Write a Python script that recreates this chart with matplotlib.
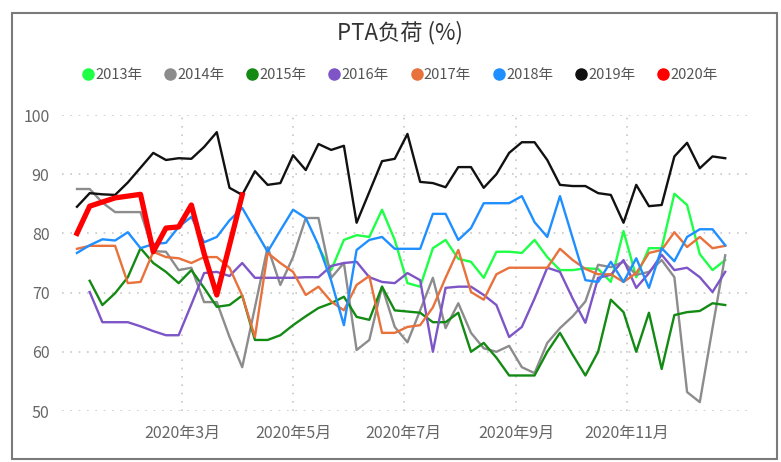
import matplotlib.pyplot as plt
import numpy as np
import pandas as pd
from matplotlib.lines import Line2D
from matplotlib.patches import Rectangle

plt.rcParams['font.family'] = ['Noto Sans CJK SC', 'DejaVu Sans']

nan = np.nan

# weekly readings, 52 weeks of the year (x axis shown as 2020 dates)
weeks = pd.date_range('2020-01-03', periods=52, freq='7D')

y2013 = [nan] * 19 + [
    77.7, 73.8, 78.9, 79.7, 79.4, 84.0, 78.9, 71.6, 71.0, 77.5,
    78.9, 75.7, 75.2, 72.5, 76.9, 76.9, 76.7, 78.9, 76.0, 73.8,
    73.8, 74.1, 74.0, 71.8, 80.4, 72.6, 77.5, 77.5, 86.7, 84.8,
    76.5, 73.8, 75.5]
y2014 = [
    87.5, 87.5, 85.2, 83.6, 83.6, 83.6, 77.0, 76.9, 73.8, 74.2,
    68.4, 68.4, 62.5, 57.4, 67.5, 77.7, 71.3, 76.0, 82.6, 82.6,
    72.5, 75.0, 60.3, 62.0, 71.0, 64.2, 61.6, 67.0, 72.5, 64.0,
    68.2, 63.2, 60.6, 60.0, 61.0, 57.4, 56.4, 61.5, 64.0, 66.0,
    68.5, 74.7, 74.3, 75.2, 73.0, 73.5, 75.5, 72.6, 53.2, 51.5,
    64.0, 76.3]
y2015 = [
    nan, 72.0, 67.9, 69.9, 72.6, 77.5, 75.0, 73.5, 71.6, 73.8,
    70.8, 67.6, 67.9, 69.5, 62.0, 62.0, 62.8, 64.5, 66.0, 67.4,
    68.2, 69.3, 65.9, 65.4, 71.0, 67.0, 66.8, 66.6, 65.0, 65.0,
    66.6, 60.0, 61.5, 59.0, 56.0, 56.0, 56.0, 60.0, 63.2, 59.5,
    56.0, 60.0, 68.8, 66.7, 60.0, 66.6, 57.1, 66.2, 66.7, 66.9,
    68.2, 67.9]
y2016 = [
    nan, 70.1, 65.0, 65.0, 65.0, 64.3, 63.5, 62.8, 62.8, 68.0,
    73.3, 73.5, 72.8, 75.0, 72.5, 72.5, 72.5, 72.5, 72.6, 72.6,
    74.5, 75.0, 75.2, 72.6, 71.8, 71.6, 73.3, 72.1, 60.0, 70.8,
    71.0, 71.0, 69.6, 67.9, 62.5, 64.2, 69.0, 74.2, 73.5, 69.0,
    64.9, 72.5, 73.0, 75.5, 70.8, 73.3, 76.4, 73.8, 74.2, 72.6,
    70.1, 73.5]
y2017 = [
    77.4, 77.9, 77.9, 77.9, 71.6, 71.8, 76.9, 76.0, 75.8, 75.0,
    76.0, 76.0, 74.2, 69.5, 62.5, 76.7, 75.0, 73.5, 69.6, 71.0,
    68.5, 67.0, 71.3, 72.8, 63.2, 63.2, 64.2, 64.5, 67.5, 72.5,
    77.2, 70.1, 68.8, 73.1, 74.2, 74.2, 74.2, 74.2, 77.4, 75.5,
    74.0, 73.1, 73.1, 71.8, 73.3, 76.7, 77.2, 80.2, 77.7, 79.4,
    77.5, 77.9]
y2018 = [
    76.7, 78.0, 79.0, 78.8, 80.2, 77.5, 78.2, 78.4, 81.1, 82.8,
    78.5, 79.4, 82.2, 84.3, 80.6, 76.9, 80.5, 84.0, 82.6, 78.0,
    72.0, 64.5, 77.2, 78.9, 79.4, 77.4, 77.4, 77.4, 83.3, 83.3,
    78.9, 80.9, 85.1, 85.1, 85.1, 86.3, 81.9, 79.4, 86.3, 79.2,
    72.1, 71.8, 75.2, 71.8, 75.8, 70.8, 77.5, 75.3, 79.4, 80.7,
    80.7, 78.0]
y2019 = [
    84.5, 86.8, 86.6, 86.5, 88.6, 91.1, 93.6, 92.4, 92.7, 92.6,
    94.6, 97.1, 87.7, 86.5, 90.5, 88.2, 88.5, 93.2, 90.7, 95.1,
    94.1, 94.8, 81.8, 87.0, 92.2, 92.6, 96.8, 88.7, 88.5, 87.8,
    91.2, 91.2, 87.7, 90.0, 93.6, 95.4, 95.4, 92.4, 88.2, 88.0,
    88.0, 86.8, 86.5, 81.8, 88.2, 84.6, 84.8, 93.0, 95.3, 91.0,
    93.0, 92.7]
y2020 = [
    80.0, 84.6, 85.3, 86.0, 86.3, 86.6, 76.9, 80.9, 81.1, 84.8,
    76.6, 69.6, 78.0, 86.5] + [nan] * 38

labels = ["2013年", "2014年", "2015年", "2016年", "2017年", "2018年", "2019年", "2020年"]
colors = ["#1eff46", "#8c8c8c", "#138a13", "#7d55c7", "#e8713c", "#1f8fff", "#111111", "#ff0000"]
values = [y2013, y2014, y2015, y2016, y2017, y2018, y2019, y2020]

tick_dates = pd.to_datetime(['2020-03-01', '2020-05-01', '2020-07-01', '2020-09-01', '2020-11-01'])
tick_labels = ["2020年3月", "2020年5月", "2020年7月", "2020年9月", "2020年11月"]

fig = plt.figure(figsize=(7.81, 4.62), dpi=100)
ax = fig.add_axes([62 / 781, 51 / 462, 685 / 781, 296 / 462])
ax.set_facecolor('none')

for label, vals, color in zip(labels, values, colors):
    lw = 3.8 if label == "2020年" else 1.7
    ax.plot(weeks, np.array(vals, dtype=float), color=color, lw=lw, label=label)

ax.set_ylim(50, 100)
ax.set_yticks(range(50, 101, 10))
ax.set_xlim(pd.Timestamp('2019-12-25 18:00'), pd.Timestamp('2021-01-06'))
ax.set_xticks(tick_dates)
ax.set_xticklabels(tick_labels)
ax.grid(True, color='#c8c8c8', linestyle=(0, (1, 4)), lw=1.2)
ax.set_axisbelow(True)
for s in ax.spines.values():
    s.set_visible(False)
ax.tick_params(axis='both', length=0, colors='#666666', labelsize=11.5)
ax.tick_params(axis='y', pad=9)
ax.tick_params(axis='x', pad=10)

handles = [Line2D([], [], marker='o', linestyle='', color=c, markersize=8) for c in colors]
fig.legend(handles, labels, loc='center', bbox_to_anchor=(400 / 781, 1 - 75 / 462),
           ncol=8, frameon=False, fontsize=10.5, handletextpad=0.1,
           columnspacing=1.5, handlelength=0.8, labelcolor='#555555')

fig.text(400 / 781, 1 - 33 / 462, "PTA负荷 (%)", ha='center', va='center',
         fontsize=16, color='#333333')

fig.add_artist(Rectangle((12 / 781, 3 / 462), 765 / 781, 446 / 462,
                         transform=fig.transFigure, fill=False,
                         edgecolor='#7a7a7a', lw=1.5))

fig.savefig('out.png', dpi=100)
